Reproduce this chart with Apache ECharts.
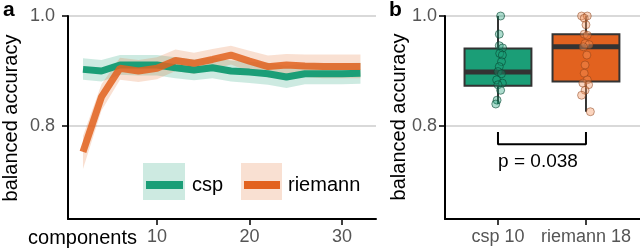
<!DOCTYPE html>
<html>
<head>
<meta charset="utf-8">
<script src="https://cdn.jsdelivr.net/npm/echarts@6/dist/echarts.min.js"></script>
<style>
html,body{margin:0;padding:0;background:#fff;}
#c{width:640px;height:251px;}
</style>
</head>
<body>
<div id="c"></div>
<script>
// ---- data ----
const components = [2,4,6,8,10,12,14,16,18,20,22,24,26,28,30,32];
const cspMean  = [0.903,0.900,0.911,0.911,0.911,0.906,0.902,0.906,0.900,0.898,0.895,0.889,0.895,0.895,0.895,0.896];
const cspLower = [0.884,0.881,0.893,0.892,0.892,0.887,0.883,0.887,0.881,0.878,0.875,0.869,0.876,0.876,0.876,0.877];
const cspUpper = [0.923,0.920,0.929,0.929,0.929,0.925,0.921,0.925,0.919,0.917,0.915,0.909,0.914,0.914,0.914,0.915];
const riemannMean  = [0.753,0.853,0.905,0.900,0.905,0.919,0.914,0.921,0.929,0.918,0.908,0.911,0.909,0.908,0.908,0.908];
const riemannLower = [0.722,0.828,0.884,0.880,0.885,0.900,0.895,0.903,0.912,0.899,0.888,0.891,0.889,0.887,0.887,0.887];
const riemannUpper = [0.782,0.876,0.924,0.920,0.925,0.939,0.933,0.940,0.946,0.937,0.928,0.931,0.930,0.930,0.930,0.930];

const xTicks = [10,20,30];
const yTicks = [0.8,1.0];

const boxCategories = ['csp 10','riemann 18'];
const boxPositions = [1,2];
// [min, q1, median, q3, max]
const cspBox = [0.840,0.873,0.898,0.941,1.000];
const riemannBox = [0.826,0.881,0.944,0.967,1.000];

const cspPointValues = [1.000,0.967,0.946,0.942,0.932,0.929,0.917,0.908,0.899,0.895,0.884,0.878,0.875,0.865,0.847,0.840];
const cspPointJitter = [0.03,0.015,0.015,0.053,0.02,0.05,0.04,0.015,0.0,0.04,-0.015,0.05,0.0,0.03,-0.01,-0.025];
const riemannPointValues = [1.000,1.000,0.996,0.984,0.967,0.965,0.950,0.948,0.944,0.929,0.911,0.896,0.884,0.878,0.875,0.865,0.856,0.826];
const riemannPointJitter = [-0.05,0.015,-0.02,0.0,-0.02,0.015,-0.01,0.035,-0.03,0.01,-0.01,-0.02,0.015,-0.035,0.03,-0.01,-0.05,0.05];

const bracketX = [1,1,2,2];
const bracketY = [0.789,0.767,0.767,0.789];
const pLabel = 'p = 0.038';

// ---- colours ----
const GREEN = '#1B9E77';
const ORANGE = '#E2621F';
const FONT = '"Liberation Sans", Arial, sans-serif';

const pairs = (xs, ys) => xs.map((x, i) => [x, ys[i]]);
const triples = (xs, lo, hi) => xs.map((x, i) => [x, lo[i], hi[i]]);

function bandSeries(xs, lo, hi, color, opacity) {
  return {
    type: 'custom', xAxisIndex: 0, yAxisIndex: 0, silent: true,
    data: triples(xs, lo, hi),
    encode: {x: 0, y: [1, 2]},
    renderItem: function (params, api) {
      if (params.dataIndex !== 0) return null;
      const upperPts = xs.map((x, i) => api.coord([x, hi[i]]));
      const lowerPts = xs.map((x, i) => api.coord([x, lo[i]])).reverse();
      return {type: 'polygon', shape: {points: upperPts.concat(lowerPts)},
        style: {fill: color, opacity: opacity}};
    }
  };
}

const chart = echarts.init(document.getElementById('c'), null, {renderer: 'canvas'});

const yAxisBase = {
  type: 'value', min: 0.631, max: 1.0,
  axisLine: {show: true, lineStyle: {color: '#000', width: 2}},
  axisTick: {show: true, length: 6, lineStyle: {color: '#000', width: 1.5}, customValues: yTicks},
  axisLabel: {customValues: yTicks, color: '#555', fontSize: 18, fontFamily: FONT, formatter: v => v.toFixed(1)},
  splitLine: {show: true, lineStyle: {color: '#d9d9d9', width: 2}}
};

const option = {
  animation: false,
  backgroundColor: '#fff',
  grid: [
    {left: 68, top: 16, width: 308, height: 203},
    {left: 445, top: 16, width: 195, height: 203}
  ],
  xAxis: [
    {
      gridIndex: 0, type: 'value', min: 0.38, max: 33.68,
      axisLine: {show: true, onZero: false, lineStyle: {color: '#000', width: 2}},
      axisTick: {show: true, length: 6, lineStyle: {color: '#000', width: 1.5}, customValues: xTicks},
      axisLabel: {customValues: xTicks, color: '#555', fontSize: 18, fontFamily: FONT, margin: 9},
      splitLine: {show: false}
    },
    {
      gridIndex: 1, type: 'value', min: 0.398, max: 2.614,
      axisLine: {show: true, onZero: false, lineStyle: {color: '#000', width: 2}},
      axisTick: {show: true, length: 6, lineStyle: {color: '#000', width: 1.5}, customValues: boxPositions},
      axisLabel: {customValues: boxPositions, color: '#555', fontSize: 18, fontFamily: FONT, margin: 9,
        formatter: v => boxCategories[Math.round(v) - 1]},
      splitLine: {show: false}
    }
  ],
  yAxis: [
    Object.assign({}, yAxisBase, {gridIndex: 0, axisLabel: Object.assign({}, yAxisBase.axisLabel, {margin: 13})}),
    Object.assign({}, yAxisBase, {gridIndex: 1, axisLabel: Object.assign({}, yAxisBase.axisLabel, {margin: 8})})
  ],
  series: [
    bandSeries(components, cspLower, cspUpper, GREEN, 0.22),
    {type: 'line', xAxisIndex: 0, yAxisIndex: 0, data: pairs(components, cspMean),
      showSymbol: false, lineStyle: {color: GREEN, width: 7}},
    bandSeries(components, riemannLower, riemannUpper, ORANGE, 0.2),
    {type: 'line', xAxisIndex: 0, yAxisIndex: 0, data: pairs(components, riemannMean),
      showSymbol: false, lineStyle: {color: ORANGE, width: 7, opacity: 0.85}},
    // boxes
    {
      type: 'custom', xAxisIndex: 1, yAxisIndex: 1,
      data: [[boxPositions[0]].concat(cspBox, [0]), [boxPositions[1]].concat(riemannBox, [1])],
      encode: {x: 0, y: [1,2,3,4,5]},
      renderItem: function (params, api) {
        const x = api.value(0);
        const pMin = api.coord([x, api.value(1)]);
        const pQ1 = api.coord([x, api.value(2)]);
        const pMed = api.coord([x, api.value(3)]);
        const pQ3 = api.coord([x, api.value(4)]);
        const pMax = api.coord([x, api.value(5)]);
        const half = api.size([0.76, 0])[0] / 2;
        const fill = api.value(6) === 0 ? GREEN : ORANGE;
        const stroke = {stroke: '#333', lineWidth: 2};
        return {
          type: 'group',
          children: [
            {type: 'line', shape: {x1: pMax[0], y1: pMax[1], x2: pQ3[0], y2: pQ3[1]}, style: stroke},
            {type: 'line', shape: {x1: pQ1[0], y1: pQ1[1], x2: pMin[0], y2: pMin[1]}, style: stroke},
            {type: 'rect', shape: {x: pQ3[0] - half, y: pQ3[1], width: half * 2, height: pQ1[1] - pQ3[1]},
              style: {fill: fill, stroke: '#333', lineWidth: 2}},
            {type: 'line', shape: {x1: pMed[0] - half, y1: pMed[1], x2: pMed[0] + half, y2: pMed[1]},
              style: {stroke: '#333', lineWidth: 5}}
          ]
        };
      }
    },
    // points
    {type: 'scatter', xAxisIndex: 1, yAxisIndex: 1, clip: false, symbolSize: 8,
      data: cspPointValues.map((v, i) => [boxPositions[0] + cspPointJitter[i], v]),
      itemStyle: {color: 'rgba(27,158,119,0.45)', borderColor: 'rgba(8,70,50,0.75)', borderWidth: 1}},
    {type: 'scatter', xAxisIndex: 1, yAxisIndex: 1, clip: false, symbolSize: 8,
      data: riemannPointValues.map((v, i) => [boxPositions[1] + riemannPointJitter[i], v]),
      itemStyle: {color: 'rgba(245,150,95,0.5)', borderColor: 'rgba(130,55,15,0.6)', borderWidth: 1}},
    // significance bracket
    {type: 'line', xAxisIndex: 1, yAxisIndex: 1, data: pairs(bracketX, bracketY), showSymbol: false,
      lineStyle: {color: '#000', width: 2}, silent: true}
  ],
  graphic: [
    {type: 'text', left: 3, top: 0, style: {text: 'a', font: 'bold 21px ' + FONT, fill: '#000'}},
    {type: 'text', left: 389, top: 0, style: {text: 'b', font: 'bold 21px ' + FONT, fill: '#000'}},
    {type: 'text', x: 11, y: 118, rotation: Math.PI / 2,
      style: {text: 'balanced accuracy', font: '20px ' + FONT, fill: '#000', align: 'center', verticalAlign: 'middle'}},
    {type: 'text', x: 399, y: 117, rotation: Math.PI / 2,
      style: {text: 'balanced accuracy', font: '20px ' + FONT, fill: '#000', align: 'center', verticalAlign: 'middle'}},
    {type: 'text', x: 137, y: 238,
      style: {text: 'components', font: '20px ' + FONT, fill: '#000', align: 'right', verticalAlign: 'middle'}},
    {type: 'text', x: 538, y: 162,
      style: {text: pLabel, font: '19px ' + FONT, fill: '#000', align: 'center', verticalAlign: 'middle'}},
    // legend
    {type: 'rect', shape: {x: 143, y: 163, width: 42, height: 37}, style: {fill: 'rgba(27,158,119,0.22)'}},
    {type: 'line', shape: {x1: 146, y1: 185, x2: 183, y2: 185}, style: {stroke: GREEN, lineWidth: 8}},
    {type: 'text', x: 192, y: 185, style: {text: 'csp', font: '20px ' + FONT, fill: '#000', verticalAlign: 'middle'}},
    {type: 'rect', shape: {x: 241, y: 163, width: 41, height: 37}, style: {fill: 'rgba(226,98,31,0.2)'}},
    {type: 'line', shape: {x1: 244, y1: 185, x2: 280, y2: 185}, style: {stroke: ORANGE, lineWidth: 8}},
    {type: 'text', x: 288, y: 185, style: {text: 'riemann', font: '20px ' + FONT, fill: '#000', verticalAlign: 'middle'}}
  ]
};
chart.setOption(option);
</script>
</body>
</html>
